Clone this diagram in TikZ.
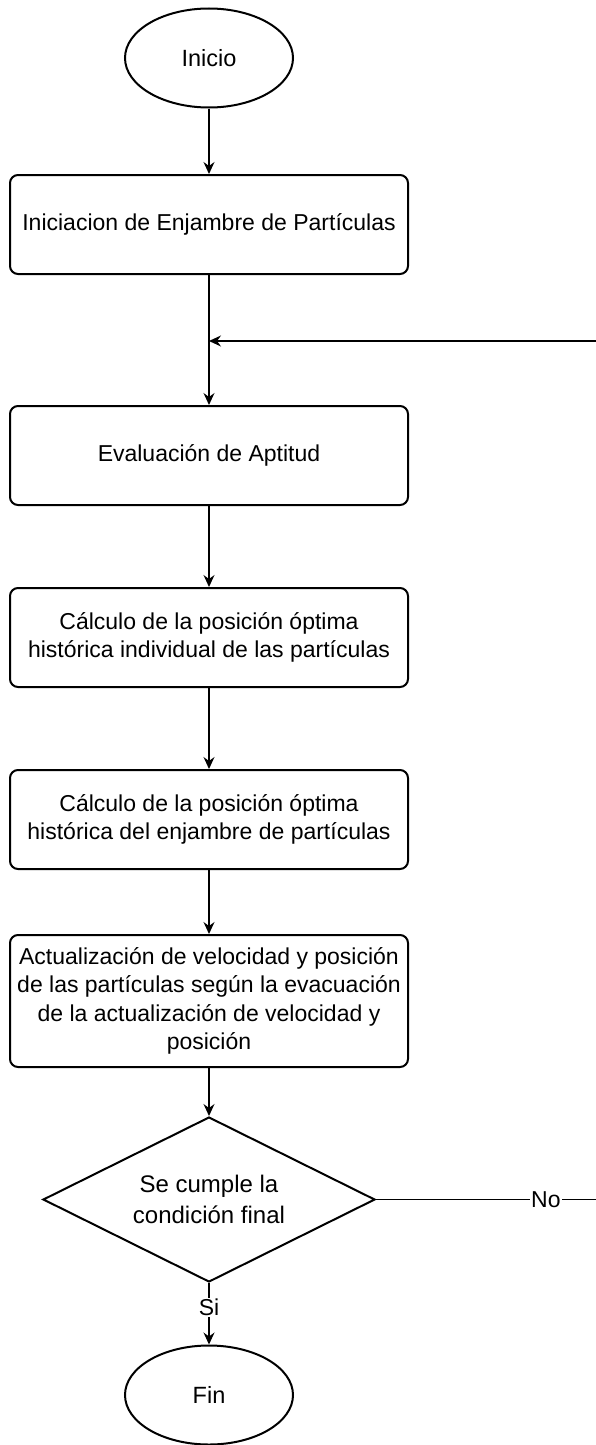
\documentclass[tikz,border=0pt]{standalone}
\usepackage{fontspec}
\setmainfont{Liberation Sans}
\usetikzlibrary{shapes.geometric,arrows.meta}
\tikzset{
  shapeline/.style={draw=black, line width=2pt, fill=white},
  procbox/.style={shapeline, rectangle, rounded corners=8pt, minimum width=398pt, minimum height=99pt, inner sep=0pt, align=center, font=\fontsize{23}{28.5}\selectfont},
  termnode/.style={shapeline, ellipse, minimum width=168pt, minimum height=99pt, inner sep=0pt, font=\fontsize{23.5}{27}\selectfont},
  decnode/.style={shapeline, diamond, aspect=2, minimum width=332pt, minimum height=165pt, inner sep=0pt, align=center, font=\fontsize{24}{31}\selectfont},
  conn/.style={draw=black, line width=1.3pt, -{Stealth[length=12pt, width=11pt, inset=4pt]}},
  edgelbl/.style={fill=white, inner sep=1pt, font=\fontsize{23}{26}\selectfont}
}
\begin{document}
\begin{tikzpicture}[x=1pt, y=-1pt]
\useasboundingbox (0,0) rectangle (596,1445);
\clip (0,0) rectangle (596,1445);
\fill[white] (0,0) rectangle (596,1445);

\node[termnode] (ini) at (209,58) {Inicio};
\node[procbox] (b1) at (209,224.5) {Iniciacion de Enjambre de Partículas};
\node[procbox] (b2) at (209,455.5) {Evaluación de Aptitud};
\node[procbox] (b3) at (209,637.5) {Cálculo de la posición óptima\\histórica individual de las partículas};
\node[procbox] (b4) at (209,819.5) {Cálculo de la posición óptima\\histórica del enjambre de partículas};
\node[procbox, minimum height=132pt] (b5) at (209,1001) {Actualización de velocidad y posición\\de las partículas según la evacuación\\de la actualización de velocidad y\\posición};
\node[decnode] (d) at (209,1199.5) {Se cumple la\\condición final};
\node[termnode] (fin) at (209,1395) {Fin};

\coordinate (j) at (209,341);
\coordinate (r) at (601,1199.5);

\draw[conn] (ini) -- (b1);
\draw[conn] (b1) -- (b2);
\draw[conn] (b2) -- (b3);
\draw[conn] (b3) -- (b4);
\draw[conn] (b4) -- (b5);
\draw[conn] (b5) -- (d);
\draw[conn] (d.south) -- node[edgelbl, pos=0.4] {Si} (fin.north);
\draw[conn] (d.east) -- node[edgelbl, pos=0.755] {No} (r) |- (j);
\end{tikzpicture}
\end{document}
